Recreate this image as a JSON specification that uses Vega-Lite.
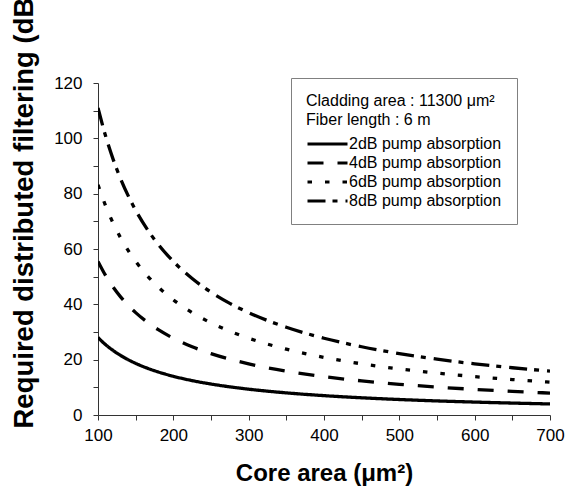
{
  "$schema": "https://vega.github.io/schema/vega-lite/v6.json",
  "width": 452,
  "height": 332,
  "autosize": {"type": "none"},
  "padding": {"left": 98, "top": 83, "right": 18, "bottom": 77},
  "background": "white",
  "config": {
    "view": {"stroke": null},
    "font": "Liberation Sans",
    "axis": {"grid": false, "domainColor": "#333333", "tickColor": "#333333", "labelColor": "black", "titleColor": "black", "labelFont": "Liberation Sans", "titleFont": "Liberation Sans"}
  },
  "data": {
    "values": [
      {"x": 100, "y": 28, "series": "2dB pump absorption"},
      {"x": 110, "y": 25.45, "series": "2dB pump absorption"},
      {"x": 120, "y": 23.33, "series": "2dB pump absorption"},
      {"x": 130, "y": 21.54, "series": "2dB pump absorption"},
      {"x": 140, "y": 20, "series": "2dB pump absorption"},
      {"x": 150, "y": 18.67, "series": "2dB pump absorption"},
      {"x": 165, "y": 16.97, "series": "2dB pump absorption"},
      {"x": 180, "y": 15.56, "series": "2dB pump absorption"},
      {"x": 200, "y": 14, "series": "2dB pump absorption"},
      {"x": 225, "y": 12.44, "series": "2dB pump absorption"},
      {"x": 250, "y": 11.2, "series": "2dB pump absorption"},
      {"x": 275, "y": 10.18, "series": "2dB pump absorption"},
      {"x": 300, "y": 9.33, "series": "2dB pump absorption"},
      {"x": 350, "y": 8, "series": "2dB pump absorption"},
      {"x": 400, "y": 7, "series": "2dB pump absorption"},
      {"x": 450, "y": 6.22, "series": "2dB pump absorption"},
      {"x": 500, "y": 5.6, "series": "2dB pump absorption"},
      {"x": 550, "y": 5.09, "series": "2dB pump absorption"},
      {"x": 600, "y": 4.67, "series": "2dB pump absorption"},
      {"x": 650, "y": 4.31, "series": "2dB pump absorption"},
      {"x": 700, "y": 4, "series": "2dB pump absorption"},
      {"x": 100, "y": 55.5, "series": "4dB pump absorption"},
      {"x": 110, "y": 50.45, "series": "4dB pump absorption"},
      {"x": 120, "y": 46.25, "series": "4dB pump absorption"},
      {"x": 130, "y": 42.69, "series": "4dB pump absorption"},
      {"x": 140, "y": 39.64, "series": "4dB pump absorption"},
      {"x": 150, "y": 37, "series": "4dB pump absorption"},
      {"x": 165, "y": 33.64, "series": "4dB pump absorption"},
      {"x": 180, "y": 30.83, "series": "4dB pump absorption"},
      {"x": 200, "y": 27.75, "series": "4dB pump absorption"},
      {"x": 225, "y": 24.67, "series": "4dB pump absorption"},
      {"x": 250, "y": 22.2, "series": "4dB pump absorption"},
      {"x": 275, "y": 20.18, "series": "4dB pump absorption"},
      {"x": 300, "y": 18.5, "series": "4dB pump absorption"},
      {"x": 350, "y": 15.86, "series": "4dB pump absorption"},
      {"x": 400, "y": 13.88, "series": "4dB pump absorption"},
      {"x": 450, "y": 12.33, "series": "4dB pump absorption"},
      {"x": 500, "y": 11.1, "series": "4dB pump absorption"},
      {"x": 550, "y": 10.09, "series": "4dB pump absorption"},
      {"x": 600, "y": 9.25, "series": "4dB pump absorption"},
      {"x": 650, "y": 8.54, "series": "4dB pump absorption"},
      {"x": 700, "y": 7.93, "series": "4dB pump absorption"},
      {"x": 100, "y": 83.25, "series": "6dB pump absorption"},
      {"x": 110, "y": 75.68, "series": "6dB pump absorption"},
      {"x": 120, "y": 69.38, "series": "6dB pump absorption"},
      {"x": 130, "y": 64.04, "series": "6dB pump absorption"},
      {"x": 140, "y": 59.46, "series": "6dB pump absorption"},
      {"x": 150, "y": 55.5, "series": "6dB pump absorption"},
      {"x": 165, "y": 50.45, "series": "6dB pump absorption"},
      {"x": 180, "y": 46.25, "series": "6dB pump absorption"},
      {"x": 200, "y": 41.63, "series": "6dB pump absorption"},
      {"x": 225, "y": 37, "series": "6dB pump absorption"},
      {"x": 250, "y": 33.3, "series": "6dB pump absorption"},
      {"x": 275, "y": 30.27, "series": "6dB pump absorption"},
      {"x": 300, "y": 27.75, "series": "6dB pump absorption"},
      {"x": 350, "y": 23.79, "series": "6dB pump absorption"},
      {"x": 400, "y": 20.81, "series": "6dB pump absorption"},
      {"x": 450, "y": 18.5, "series": "6dB pump absorption"},
      {"x": 500, "y": 16.65, "series": "6dB pump absorption"},
      {"x": 550, "y": 15.14, "series": "6dB pump absorption"},
      {"x": 600, "y": 13.88, "series": "6dB pump absorption"},
      {"x": 650, "y": 12.81, "series": "6dB pump absorption"},
      {"x": 700, "y": 11.89, "series": "6dB pump absorption"},
      {"x": 100, "y": 111, "series": "8dB pump absorption"},
      {"x": 110, "y": 100.91, "series": "8dB pump absorption"},
      {"x": 120, "y": 92.5, "series": "8dB pump absorption"},
      {"x": 130, "y": 85.38, "series": "8dB pump absorption"},
      {"x": 140, "y": 79.29, "series": "8dB pump absorption"},
      {"x": 150, "y": 74, "series": "8dB pump absorption"},
      {"x": 165, "y": 67.27, "series": "8dB pump absorption"},
      {"x": 180, "y": 61.67, "series": "8dB pump absorption"},
      {"x": 200, "y": 55.5, "series": "8dB pump absorption"},
      {"x": 225, "y": 49.33, "series": "8dB pump absorption"},
      {"x": 250, "y": 44.4, "series": "8dB pump absorption"},
      {"x": 275, "y": 40.36, "series": "8dB pump absorption"},
      {"x": 300, "y": 37, "series": "8dB pump absorption"},
      {"x": 350, "y": 31.71, "series": "8dB pump absorption"},
      {"x": 400, "y": 27.75, "series": "8dB pump absorption"},
      {"x": 450, "y": 24.67, "series": "8dB pump absorption"},
      {"x": 500, "y": 22.2, "series": "8dB pump absorption"},
      {"x": 550, "y": 20.18, "series": "8dB pump absorption"},
      {"x": 600, "y": 18.5, "series": "8dB pump absorption"},
      {"x": 650, "y": 17.08, "series": "8dB pump absorption"},
      {"x": 700, "y": 15.86, "series": "8dB pump absorption"}
    ]
  },
  "mark": {"type": "line", "stroke": "black", "strokeWidth": 3.3, "interpolate": "monotone", "strokeCap": "butt", "clip": true},
  "encoding": {
    "x": {
      "field": "x", "type": "quantitative",
      "scale": {"domain": [100, 700], "nice": false, "zero": false},
      "axis": {
        "values": [100, 150, 200, 250, 300, 350, 400, 450, 500, 550, 600, 650, 700],
        "labelExpr": "datum.value % 100 === 0 ? datum.label : ''",
        "labelFontSize": 17, "labelPadding": 7, "tickSize": 5, "labelFlush": false, "labelOverlap": false,
        "title": "Core area (μm²)", "titleFontSize": 24, "titleFontWeight": "bold",
        "titleX": 226, "titleY": 65, "titleBaseline": "alphabetic", "titleAlign": "center"
      }
    },
    "y": {
      "field": "y", "type": "quantitative",
      "scale": {"domain": [0, 120], "nice": false},
      "axis": {
        "values": [0, 10, 20, 30, 40, 50, 60, 70, 80, 90, 100, 110, 120],
        "labelExpr": "datum.value % 20 === 0 ? datum.label : ''",
        "labelFontSize": 17, "labelPadding": 11, "tickSize": 5, "labelFlush": false, "labelOverlap": false,
        "title": "Required distributed filtering (dB)", "titleFontSize": 27.5, "titleFontWeight": "bold",
        "titleAngle": 270, "titleX": -66, "titleY": 345, "titleAlign": "left", "titleBaseline": "alphabetic"
      }
    },
    "strokeDash": {
      "field": "series", "type": "nominal",
      "scale": {
        "domain": ["2dB pump absorption", "4dB pump absorption", "6dB pump absorption", "8dB pump absorption"],
        "range": [[1, 0], [16, 14], [4.5, 13], [18, 7, 5, 8]]
      },
      "legend": {
        "orient": "none", "legendX": 193, "legendY": -5,
        "title": ["Cladding area : 11300 μm²", "Fiber length : 6 m"],
        "titleFontSize": 16, "titleFontWeight": "normal", "titleColor": "black", "titleLineHeight": 19, "titlePadding": 8, "titleLimit": 300,
        "labelFontSize": 16, "labelColor": "black", "labelOffset": 0, "labelLimit": 300,
        "symbolType": "stroke", "symbolSize": 1600, "symbolStrokeWidth": 3, "symbolStrokeColor": "black", "symbolOffset": 0,
        "strokeColor": "#808080", "padding": 15, "rowPadding": 3, "clipHeight": 16
      }
    }
  }
}
